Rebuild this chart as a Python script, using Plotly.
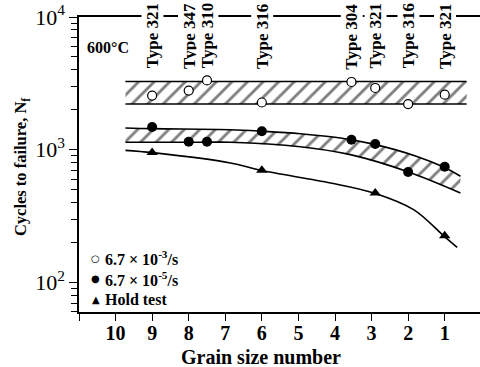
import plotly.graph_objects as go

# ---------------- data ----------------
grain = [9, 8, 7.5, 6, 3.55, 2.9, 2, 1]
steel_types = ["Type 321", "Type 347", "Type 310", "Type 316",
               "Type 304", "Type 321", "Type 316", "Type 321"]
fast_rate = [2560, 2790, 3330, 2270, 3240, 2920, 2210, 2600]      # 6.7e-3 /s
slow_rate = [1483, 1150, 1150, 1380, 1190, 1104, 681, 745]        # 6.7e-5 /s
hold_grain = [9, 6, 2.9, 1]
hold_test = [952, 700, 473, 225]

# scatter band for 6.7e-3 /s
band1_x = [9.73, 0.40]
band1_low = 2210
band1_high = 3270

# scatter band for 6.7e-5 /s
band2_up_x = [9.73, 8.99, 6.86, 6.01, 4.95, 3.85, 2.98, 1.76, 1.03, 0.57]
band2_up_y = [1459, 1442, 1416, 1380, 1321, 1227, 1107, 891, 741, 631]
band2_lo_x = [9.73, 7.68, 6.86, 4.95, 3.58, 1.99, 0.57]
band2_lo_y = [1138, 1138, 1140, 1055, 919, 681, 473]

# hold-test trend
hold_curve_x = [9.73, 8.99, 6.86, 6.04, 4.12, 2.94, 1.85, 1.03, 0.66]
hold_curve_y = [990, 951, 796, 700, 562, 473, 354, 225, 184]

legend_symbols = ["○", "●", "▲"]
legend_labels = ["6.7 × 10<sup>-3</sup>/s", "6.7 × 10<sup>-5</sup>/s", "Hold test"]

x_ticks = [11, 10, 9, 8, 7, 6, 5, 4, 3, 2, 1]
x_ticktext = ["", "10", "9", "8", "7", "6", "5", "4", "3", "2", "1"]
y_major = [100, 1000, 10000]
y_major_text = ["10<sup>2</sup>", "10<sup>3</sup>", "10<sup>4</sup>"]
y_minor = [60, 70, 80, 90, 200, 300, 400, 500, 600, 700, 800, 900,
           2000, 3000, 4000, 5000, 6000, 7000, 8000, 9000]

SERIF = "Liberation Serif"
hatch = dict(shape="/", fgcolor="black", bgcolor="white", size=11, solidity=0.26)

fig = go.Figure()

# band 1 hatch + edges
fig.add_trace(go.Scatter(
    x=[band1_x[0], band1_x[1], band1_x[1], band1_x[0]],
    y=[band1_low, band1_low, band1_high, band1_high],
    fill="toself", fillcolor="white", fillpattern=hatch,
    mode="lines", line=dict(width=0), showlegend=False, hoverinfo="skip"))
for yy in (band1_low, band1_high):
    fig.add_trace(go.Scatter(x=band1_x, y=[yy, yy], mode="lines",
                             line=dict(color="black", width=1.6),
                             showlegend=False, hoverinfo="skip"))

# band 2 hatch + edges
fig.add_trace(go.Scatter(
    x=band2_up_x + band2_lo_x[::-1],
    y=band2_up_y + band2_lo_y[::-1],
    fill="toself", fillcolor="white", fillpattern=hatch,
    mode="lines", line=dict(width=0), showlegend=False, hoverinfo="skip"))
fig.add_trace(go.Scatter(x=band2_up_x, y=band2_up_y, mode="lines",
                         line=dict(color="black", width=1.6, shape="spline"),
                         showlegend=False, hoverinfo="skip"))
fig.add_trace(go.Scatter(x=band2_lo_x, y=band2_lo_y, mode="lines",
                         line=dict(color="black", width=1.6, shape="spline"),
                         showlegend=False, hoverinfo="skip"))

# hold test curve
fig.add_trace(go.Scatter(x=hold_curve_x, y=hold_curve_y, mode="lines",
                         line=dict(color="black", width=1.6, shape="spline"),
                         showlegend=False, hoverinfo="skip"))

# data points
fig.add_trace(go.Scatter(
    x=grain, y=fast_rate, mode="markers", name=legend_labels[0],
    marker=dict(symbol="circle", size=9, color="white",
                line=dict(color="black", width=1.2)), showlegend=False))
fig.add_trace(go.Scatter(
    x=grain, y=slow_rate, mode="markers", name=legend_labels[1],
    marker=dict(symbol="circle", size=10, color="black",
                line=dict(color="black", width=0)), showlegend=False))
fig.add_trace(go.Scatter(
    x=hold_grain, y=hold_test, mode="markers", name=legend_labels[2],
    marker=dict(symbol="triangle-up", size=10, color="black",
                line=dict(color="black", width=0)), showlegend=False))

# legend drawn as text rows (key glyph + label)
legend_rows_y = [0.183, 0.112, 0.041]
for sym, lab, ly in zip(legend_symbols, legend_labels, legend_rows_y):
    fig.add_annotation(x=0.042, y=ly, xref="paper", yref="paper", text=sym,
                       xanchor="center", yanchor="middle", showarrow=False,
                       font=dict(family="DejaVu Sans", size=10, color="black"))
    fig.add_annotation(x=0.060, y=ly, xref="paper", yref="paper", text=lab,
                       xanchor="left", yanchor="middle", showarrow=False,
                       font=dict(family=SERIF, size=16, color="black", weight="bold"))

# steel type labels along top
for gx, t in zip(grain, steel_types):
    fig.add_annotation(x=gx, xref="x", y=0.935, yref="paper", text=t,
                       textangle=-90, showarrow=False, bgcolor="white",
                       xanchor="center", yanchor="middle", borderpad=1,
                       font=dict(family=SERIF, size=17, color="black", weight="bold"))

fig.add_annotation(x=0.015, y=0.898, xref="paper", yref="paper", text="600°C",
                   xanchor="left", yanchor="middle", showarrow=False,
                   font=dict(family=SERIF, size=16, color="black", weight="bold"))

fig.add_annotation(x=-0.143, y=0.49, xref="paper", yref="paper",
                   text="Cycles to failure, N<sub>f</sub>", textangle=-90,
                   showarrow=False, xanchor="center", yanchor="middle",
                   font=dict(family=SERIF, size=16.5, color="black", weight="bold"))
fig.add_annotation(x=0.454, y=-0.152, xref="paper", yref="paper",
                   text="Grain size number", showarrow=False,
                   xanchor="center", yanchor="middle",
                   font=dict(family=SERIF, size=20, color="black", weight="bold"))

fig.update_layout(
    width=480, height=367,
    margin=dict(l=79, r=0, t=17, b=55),
    paper_bgcolor="white", plot_bgcolor="white",
    showlegend=False,
    xaxis=dict(range=[11, 0.035], tickmode="array", tickvals=x_ticks,
               ticktext=x_ticktext, ticks="outside", ticklen=7, tickwidth=1.3,
               tickcolor="black", showline=True, linecolor="black", linewidth=1.5,
               mirror=True, showgrid=False, zeroline=False, ticklabelstandoff=-5,
               tickfont=dict(family=SERIF, size=20, color="black", weight="bold")),
    yaxis=dict(type="log", range=[1.778, 4], tickmode="array", tickvals=y_major,
               ticktext=y_major_text, ticks="outside", ticklen=8, tickwidth=1.3,
               tickcolor="black", showline=True, linecolor="black", linewidth=1.5,
               showgrid=False, zeroline=False,
               minor=dict(tickvals=y_minor, ticks="outside", ticklen=6,
                          tickwidth=1.2, tickcolor="black", showgrid=False),
               tickfont=dict(family=SERIF, size=22, color="black")),
)

fig.write_html("out.html")
